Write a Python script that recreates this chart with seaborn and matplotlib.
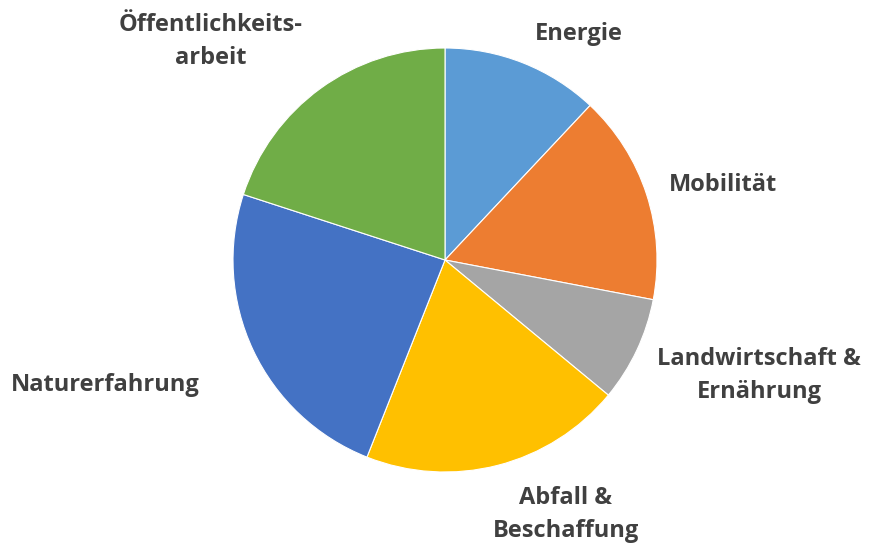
import numpy as np
import matplotlib.pyplot as plt
import seaborn as sns

plt.switch_backend('Agg')

# daten aus dem diagramm (anteile in %)
bereiche = ['Energie', 'Mobilität', 'Landwirtschaft &\nErnährung', 'Abfall &\nBeschaffung',
            'Naturerfahrung', 'Öffentlichkeits-\narbeit']
anteile = [12, 16, 8, 20, 24, 20]

farben = ['#5B9BD5', '#ED7D31', '#A5A5A5', '#FFC000', '#4472C4', '#70AD47']

# label-position: abstand (in radien) und winkelverschiebung (grad, im uhrzeigersinn)
lab_abstand = [1.24, 1.36, 1.58, 1.33, 1.71, 1.51]
lab_drehung = [9, 3, -5, -11, 5, -11]

sns.set_theme(style='white')
plt.rcParams['font.family'] = ['Open Sans', 'DejaVu Sans']

fig = plt.figure(figsize=(8.69, 5.49), dpi=100)
r_px = 212
ax = fig.add_axes([(445 - r_px) / 869, (549 - 260 - r_px) / 549, 2 * r_px / 869, 2 * r_px / 549])

wedges, _ = ax.pie(anteile, colors=farben, startangle=90, counterclock=False,
                   wedgeprops={'edgecolor': 'white', 'linewidth': 0.8})

gesamt = sum(anteile)
start = 0
for name, wert, d, dr in zip(bereiche, anteile, lab_abstand, lab_drehung):
    mitte = start + wert / gesamt * 360 / 2
    start += wert / gesamt * 360
    w = np.deg2rad(mitte + dr)
    ax.text(d * np.sin(w), d * np.cos(w), name, ha='center', va='center',
            fontsize=17, fontweight='bold', color='#404040', linespacing=1.5)

ax.set_xlim(-1, 1)
ax.set_ylim(-1, 1)
ax.set_aspect('equal')
ax.axis('off')

plt.savefig('out.png', dpi=100)
plt.close()
